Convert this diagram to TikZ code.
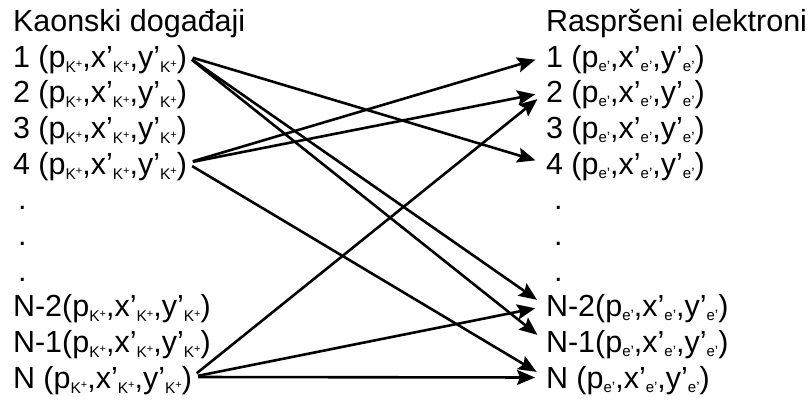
\documentclass[tikz,border=0pt]{standalone}
\usepackage{fontspec}
\setmainfont{Liberation Sans}
\usetikzlibrary{arrows.meta}
\newcommand{\Kp}{\raisebox{-5pt}{\fontsize{15.5}{15}\selectfont K\raisebox{4.5pt}{\fontsize{11}{11}\selectfont +}}}
\newcommand{\ep}{\raisebox{-4pt}{\fontsize{15}{15}\selectfont e’}}
\newcommand{\Lrow}[1]{#1(p\Kp,x’\Kp,y’\Kp)}
\newcommand{\Rrow}[1]{#1(p\ep,x’\ep,y’\ep)}
\begin{document}
\begin{tikzpicture}[x=1pt,y=-1pt,
  txt/.style={anchor=base west, inner sep=0pt, outer sep=0pt,
    font=\fontsize{30.5}{36}\selectfont},
  ltxt/.style={txt, text height=22pt, text depth=0pt},
  rtxt/.style={txt, text height=21pt, text depth=0pt},
  conn/.style={line width=2.6pt, -{Stealth[length=18pt,width=15pt,inset=3pt]},
    shorten <=6pt, shorten >=11pt}]
\useasboundingbox (0,0) rectangle (809,400);
% left column
\node[txt] (lh) at (13,31.3) {Kaonski događaji};
\node[ltxt] (l1) at (13,67) {\Lrow{1 }};
\node[ltxt] (l2) at (13,102.7) {\Lrow{2 }};
\node[ltxt] (l3) at (13,138.3) {\Lrow{3 }};
\node[ltxt] (l4) at (13,174) {\Lrow{4 }};
\node[txt] (ld1) at (18,209.6) {.};
\node[txt] (ld2) at (18,245.3) {.};
\node[txt] (ld3) at (18,281) {.};
\node[ltxt] (ln2) at (13,316.6) {\Lrow{N-2}};
\node[ltxt] (ln1) at (13,352.2) {\Lrow{N-1}};
\node[ltxt] (ln) at (13,388) {\Lrow{N }};
% right column
\node[txt] (rh) at (546,31.3) {Raspršeni elektroni};
\node[rtxt] (r1) at (546,67) {\Rrow{1 }};
\node[rtxt] (r2) at (546,102.7) {\Rrow{2 }};
\node[rtxt] (r3) at (546,138.3) {\Rrow{3 }};
\node[rtxt] (r4) at (546,174) {\Rrow{4 }};
\node[txt] (rd1) at (554,209.6) {.};
\node[txt] (rd2) at (554,245.3) {.};
\node[txt] (rd3) at (554,281) {.};
\node[rtxt] (rn2) at (546,316.6) {\Rrow{N-2}};
\node[rtxt] (rn1) at (546,352.2) {\Rrow{N-1}};
\node[rtxt] (rn) at (546,388) {\Rrow{N }};
% connectors
\draw[conn] (l1.east) -- (r4.west);
\draw[conn] (l1.east) -- (rn2.west);
\draw[conn] (l1.east) -- (rn1.west);
\draw[conn] (l4.east) -- (r1.west);
\draw[conn] (l4.east) -- (r2.west);
\draw[conn] (l4.east) -- (rn.west);
\draw[conn] (ln.east) -- (r2.west);
\draw[conn] (ln.east) -- (rn2.west);
\draw[conn] (ln.east) -- (rn.west);
\end{tikzpicture}
\end{document}
